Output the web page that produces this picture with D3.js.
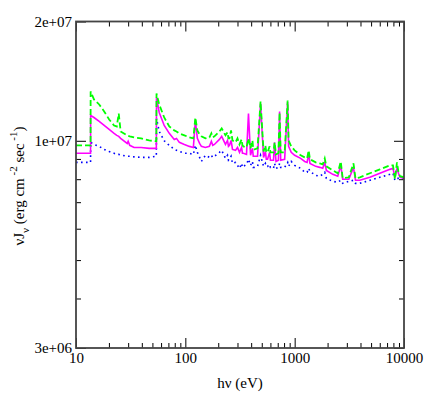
<!DOCTYPE html>
<html>
<head>
<meta charset="utf-8">
<script src="https://cdn.jsdelivr.net/npm/d3@7/dist/d3.min.js"></script>
<style>
  html, body { margin: 0; padding: 0; background: #fff; }
  svg { display: block; }
</style>
</head>
<body>
<svg id="chart" width="428" height="395"></svg>
<script>
// Photon energy hν (eV)
const energy = [
  10, 13.59, 13.61, 14.6, 16.3, 18.1, 20.1, 22.3, 23.6, 24.6,
  25.6, 29.4, 30.0, 31.0, 34.0, 39.4, 46.7, 54.3, 54.5, 57.7,
  64.1, 71.3, 79.2, 83.0, 88.1, 98.0, 108.9, 118.4, 123.5, 128.8,
  135, 140.2, 152.5, 166, 173, 178, 184.5, 205, 215, 232.9,
  243, 248, 253.4, 262, 270, 287.7, 300, 312.9, 327, 333,
  340, 362.7, 378, 394.8, 411, 418, 429.5, 457.6, 487.5, 519.4,
  540, 550, 565, 590, 600, 614.8, 640, 655, 675, 710,
  728, 745, 809.6, 862.6, 880, 930, 1000, 1135, 1235, 1300,
  1343, 1380, 1558, 1695, 1806, 1884, 1950, 2233, 2479, 2640,
  2750, 3129, 3450, 3600, 3946, 4873, 6020, 7443, 7930, 8265,
  8626, 8900, 9190, 10000
];
// νJν (erg cm^-2 s^-1), green dashed
const jGreen = [
  9.74e6, 9.74e6, 13.32e6, 12.72e6, 12.35e6, 11.86e6, 11.32e6, 10.93e6, 10.87e6, 11.72e6,
  10.56e6, 10.32e6, 10.29e6, 10.26e6, 10.20e6, 10.14e6, 10.02e6, 9.97e6, 13.16e6, 12.35e6,
  11.45e6, 10.87e6, 10.62e6, 10.56e6, 10.44e6, 10.32e6, 10.20e6, 10.14e6, 11.45e6, 10.62e6,
  10.38e6, 10.26e6, 10.14e6, 10.20e6, 10.44e6, 10.20e6, 10.26e6, 10.56e6, 10.75e6, 10.32e6,
  10.50e6, 10.14e6, 10.14e6, 10.62e6, 10.02e6, 9.91e6, 10.14e6, 9.79e6, 10.08e6, 9.74e6,
  9.68e6, 9.62e6, 10.14e6, 9.57e6, 10.02e6, 9.51e6, 9.51e6, 9.57e6, 12.57e6, 9.40e6,
  9.74e6, 9.35e6, 9.35e6, 9.68e6, 9.35e6, 9.35e6, 9.35e6, 9.91e6, 9.24e6, 9.30e6,
  11.79e6, 9.35e6, 9.35e6, 12.64e6, 10.02e6, 9.68e6, 9.46e6, 9.19e6, 9.08e6, 9.03e6,
  9.46e6, 8.98e6, 8.82e6, 8.77e6, 8.72e6, 9.03e6, 8.62e6, 8.42e6, 8.28e6, 8.87e6,
  8.04e6, 8.09e6, 8.77e6, 8.04e6, 8.09e6, 8.28e6, 8.47e6, 8.67e6, 8.67e6, 8.00e6,
  8.82e6, 8.33e6, 8.14e6, 8.09e6
];
// magenta solid
const jMagenta = [
  9.30e6, 9.30e6, 11.59e6, 11.45e6, 11.19e6, 10.93e6, 10.68e6, 10.44e6, 10.32e6, 10.26e6,
  10.14e6, 9.85e6, 9.97e6, 9.74e6, 9.62e6, 9.62e6, 9.57e6, 9.57e6, 12.86e6, 11.79e6,
  10.93e6, 10.44e6, 10.08e6, 10.14e6, 9.91e6, 9.79e6, 9.68e6, 9.62e6, 11.26e6, 10.14e6,
  9.85e6, 9.68e6, 9.62e6, 9.68e6, 9.97e6, 9.74e6, 9.79e6, 10.08e6, 10.26e6, 9.79e6,
  10.02e6, 9.68e6, 9.74e6, 10.02e6, 9.51e6, 9.46e6, 9.62e6, 9.35e6, 9.62e6, 9.30e6,
  9.30e6, 9.24e6, 11.72e6, 9.19e6, 9.57e6, 9.14e6, 9.14e6, 9.14e6, 12.42e6, 9.08e6,
  9.40e6, 8.98e6, 8.98e6, 9.35e6, 8.93e6, 8.93e6, 8.93e6, 9.91e6, 8.87e6, 8.93e6,
  11.86e6, 8.93e6, 8.98e6, 12.50e6, 9.68e6, 9.35e6, 9.19e6, 9.03e6, 8.87e6, 8.82e6,
  9.30e6, 8.77e6, 8.62e6, 8.57e6, 8.52e6, 8.82e6, 8.42e6, 8.23e6, 8.14e6, 8.67e6,
  8.00e6, 8.00e6, 8.57e6, 7.95e6, 7.95e6, 8.09e6, 8.28e6, 8.47e6, 8.52e6, 8.09e6,
  8.52e6, 8.28e6, 8.09e6, 8.04e6
];
// blue dotted
const jBlue = [
  8.82e6, 8.82e6, 9.91e6, 9.79e6, 9.68e6, 9.51e6, 9.40e6, 9.30e6, 9.24e6, 9.24e6,
  9.21e6, 9.14e6, 9.14e6, 9.14e6, 9.11e6, 9.08e6, 9.08e6, 9.14e6, 11.39e6, 10.56e6,
  10.00e6, 9.74e6, 9.51e6, 9.46e6, 9.40e6, 9.30e6, 9.30e6, 9.24e6, 9.74e6, 9.35e6,
  9.08e6, 8.87e6, 9.19e6, 9.08e6, 9.19e6, 9.08e6, 9.14e6, 9.35e6, 9.46e6, 9.03e6,
  9.19e6, 8.93e6, 8.98e6, 9.14e6, 8.77e6, 8.82e6, 8.67e6, 8.52e6, 8.77e6, 8.57e6,
  8.62e6, 8.72e6, 8.98e6, 8.67e6, 8.87e6, 8.57e6, 8.57e6, 8.62e6, 9.19e6, 8.62e6,
  8.77e6, 8.62e6, 8.62e6, 8.72e6, 8.57e6, 8.57e6, 8.52e6, 8.77e6, 8.52e6, 8.57e6,
  8.77e6, 8.57e6, 8.57e6, 8.82e6, 8.62e6, 8.87e6, 8.67e6, 8.52e6, 8.33e6, 8.33e6,
  8.52e6, 8.37e6, 8.18e6, 8.14e6, 8.23e6, 8.33e6, 8.04e6, 7.90e6, 7.86e6, 7.95e6,
  7.81e6, 7.90e6, 7.95e6, 7.81e6, 7.81e6, 7.95e6, 8.09e6, 8.23e6, 8.28e6, 7.95e6,
  8.04e6, 8.04e6, 8.04e6, 8.04e6
];

const xMajor = [10, 100, 1000, 10000];
const xMinor = [20,30,40,50,60,70,80,90,200,300,400,500,600,700,800,900,2000,3000,4000,5000,6000,7000,8000,9000];
const yMajor = [3e6, 1e7, 2e7];
const yMajorLabels = ["3e+06", "1e+07", "2e+07"];
const yMinor = [4e6, 5e6, 6e6, 7e6, 8e6, 9e6];

const FONT = '"Liberation Serif"';
const L = 76, R = 404, T = 21.5, B = 348;
const svg = d3.select("#chart");
const x = d3.scaleLog().domain([10, 10000]).range([L, R]);
const y = d3.scaleLog().domain([3e6, 2e7]).range([B, T]);

svg.append("defs").append("clipPath").attr("id", "clip")
  .append("rect").attr("x", L).attr("y", T).attr("width", R - L).attr("height", B - T);

const rows = energy.map((e, i) => ({ e, g: jGreen[i], m: jMagenta[i], b: jBlue[i] }));

const series = [
  { key: "b", color: "#0000ff", dash: "1.6,3.4", width: 1.6 },
  { key: "m", color: "#ff00ff", dash: null, width: 1.6 },
  { key: "g", color: "#00ff00", dash: "6,3", width: 1.8 }
];
const plot = svg.append("g").attr("clip-path", "url(#clip)");
series.forEach(s => {
  const line = d3.line().x(d => x(d.e)).y(d => y(d[s.key]));
  plot.append("path").datum(rows)
    .attr("d", line)
    .attr("fill", "none")
    .attr("stroke", s.color)
    .attr("stroke-width", s.width)
    .attr("stroke-dasharray", s.dash);
});

function styleAxis(g) {
  g.attr("font-family", null).attr("font-size", null);
  g.select(".domain").remove();
  g.selectAll(".tick line").attr("stroke", "#000").attr("stroke-width", 1);
  g.selectAll("text").style("font-family", FONT).style("font-size", "15px").attr("fill", "#000");
}
// bottom
svg.append("g").attr("transform", `translate(0,${B})`)
  .call(d3.axisBottom(x).tickValues(xMajor).tickSize(-10).tickPadding(4).tickFormat(d3.format("d")))
  .call(styleAxis);
svg.append("g").attr("transform", `translate(0,${B})`)
  .call(d3.axisBottom(x).tickValues(xMinor).tickSize(-5).tickFormat(""))
  .call(styleAxis);
// top
svg.append("g").attr("transform", `translate(0,${T})`)
  .call(d3.axisTop(x).tickValues(xMajor).tickSize(-10).tickFormat(""))
  .call(styleAxis);
svg.append("g").attr("transform", `translate(0,${T})`)
  .call(d3.axisTop(x).tickValues(xMinor).tickSize(-5).tickFormat(""))
  .call(styleAxis);
// left
svg.append("g").attr("transform", `translate(${L},0)`)
  .call(d3.axisLeft(y).tickValues(yMajor).tickSize(-10).tickPadding(4).tickFormat((d, i) => yMajorLabels[i]))
  .call(styleAxis);
svg.append("g").attr("transform", `translate(${L},0)`)
  .call(d3.axisLeft(y).tickValues(yMinor).tickSize(-5).tickFormat(""))
  .call(styleAxis);
// right
svg.append("g").attr("transform", `translate(${R},0)`)
  .call(d3.axisRight(y).tickValues(yMajor).tickSize(-10).tickFormat(""))
  .call(styleAxis);
svg.append("g").attr("transform", `translate(${R},0)`)
  .call(d3.axisRight(y).tickValues(yMinor).tickSize(-5).tickFormat(""))
  .call(styleAxis);

// frame
svg.append("rect").attr("x", L).attr("y", T).attr("width", R - L).attr("height", B - T)
  .attr("fill", "none").attr("stroke", "#444").attr("stroke-width", 1.8);

// axis titles
svg.append("text").attr("x", 240).attr("y", 388).attr("text-anchor", "middle")
  .style("font-family", FONT).style("font-size", "15px").text("hν (eV)");

const yt = svg.append("text").attr("transform", "translate(24,186) rotate(-90)")
  .attr("text-anchor", "middle").style("font-family", FONT).style("font-size", "15px");
yt.append("tspan").text("νJ");
yt.append("tspan").attr("dy", 5).style("font-size", "11px").text("ν");
yt.append("tspan").attr("dy", -5).text(" (erg cm");
yt.append("tspan").attr("dy", -7).style("font-size", "11px").text(" -2");
yt.append("tspan").attr("dy", 7).text("  sec");
yt.append("tspan").attr("dy", -7).style("font-size", "11px").text(" -1");
yt.append("tspan").attr("dy", 7).text(")");
</script>
</body>
</html>
